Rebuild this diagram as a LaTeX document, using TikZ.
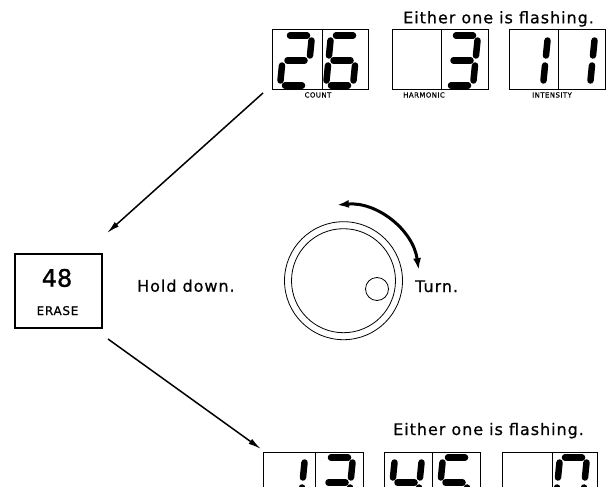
\documentclass[tikz,border=0pt]{standalone}
\usepackage{fontspec}
\setmainfont{DejaVu Sans}
\newfontfamily\panelfont[LetterSpace=6,FakeBold=0.6]{DejaVu Sans}
\newfontfamily\keyfont[FakeBold=1.2]{DejaVu Sans}
\usetikzlibrary{arrows.meta}

% seven-segment pieces, local frame: top-left at (0,0), y down
\def\segpatha{(5,0) -- (22,0)}
\def\segpathb{(27,5) -- (27,20)}
\def\segpathc{(27,30) -- (27,45)}
\def\segpathd{(5,50) -- (22,50)}
\def\segpathe{(0,30) -- (0,45)}
\def\segpathf{(0,5) -- (0,20)}
\def\segpathg{(5,25) -- (22,25)}
\newcommand{\segdigit}[3]{%
  \begin{scope}[shift={(#1,#2)}, xslant=0.1]
    \foreach \s in {#3} {\draw[segline] \csname segpath\s\endcsname;}
  \end{scope}}

\tikzset{
  segline/.style={line width=6.5pt, line cap=round},
  display/.style={draw, line width=1pt, minimum width=96pt, minimum height=60pt,
    anchor=north west, inner sep=0pt, outer sep=0pt},
  divider/.style={line width=1pt},
  caption/.style={font=\panelfont\fontsize{7}{8}\selectfont, inner sep=0pt, anchor=base},
  remark/.style={font=\panelfont\fontsize{16}{19}\selectfont, inner sep=0pt, anchor=base west},
  flow/.style={line width=1.5pt, -{Latex[length=13pt,width=6pt]}},
}

\begin{document}
\begin{tikzpicture}[x=1pt,y=-1pt]
  \clip (0,0) rectangle (616,487);
  % Displays before erasing
  \node[remark] (flashtop) at (403,23.3) {Either one is flashing.};
  \node[display] (count) at (272,30) {};
  \node[display] (harmonic) at (392,30) {};
  \node[display] (intensity) at (509,30) {};
  \draw[divider] ([xshift=50]count.north west) -- ([xshift=50]count.south west);
  \draw[divider] ([xshift=49]harmonic.north west) -- ([xshift=49]harmonic.south west);
  \draw[divider] ([xshift=49]intensity.north west) -- ([xshift=49]intensity.south west);
  \segdigit{285}{35.5}{a,b,g,e,d}
  \segdigit{331}{35.5}{a,f,g,e,d,c}
  \segdigit{451}{35.5}{a,b,g,c,d}
  \segdigit{521}{35.5}{b,c}
  \segdigit{568}{35.5}{b,c}
  \node[caption] (countlabel) at (318,97.5) {COUNT};
  \node[caption] (harmoniclabel) at (424,97.5) {HARMONIC};
  \node[caption] (intensitylabel) at (552,97.5) {INTENSITY};

  % Erase key
  \node[draw, line width=1.2pt, minimum width=87pt, minimum height=74pt,
    inner sep=0pt, outer sep=0pt] (erasekey) at (58.5,291) {};
  \node[font=\keyfont\fontsize{24}{28}\selectfont, inner sep=0pt, anchor=base] (keynum) at (57,286.7) {48};
  \node[font=\panelfont\fontsize{12}{14}\selectfont, inner sep=0pt, anchor=base] (keyname) at (57.5,315) {ERASE};
  \node[remark] (hold) at (137,291.7) {Hold down.};

  % Knob
  \node[draw, circle, line width=0.8pt, minimum size=118pt, inner sep=0pt] (knob) at (343.5,280.7) {};
  \draw[line width=0.8pt] (knob.center) circle (52);
  \node[draw, circle, line width=0.8pt, minimum size=23pt, inner sep=0pt] (pointer) at (377,289) {};
  \draw[line width=3pt, {Latex[length=12pt,width=8pt]}-{Latex[length=12pt,width=8pt]}]
    ([shift={(-8:76)}]knob.center) arc[start angle=-8, end angle=-95, radius=76];
  \node[remark] (turn) at (415,292) {Turn.};

  % Displays after erasing
  \node[remark] (flashbottom) at (393,435) {Either one is flashing.};
  \node[display, minimum width=100pt] (countafter) at (263,452) {};
  \node[display] (harmonicafter) at (384,452) {};
  \node[display, minimum width=95pt] (intensityafter) at (502,452) {};
  \draw[divider] ([xshift=52]countafter.north west) -- ([xshift=52]countafter.south west);
  \draw[divider] ([xshift=48]harmonicafter.north west) -- ([xshift=48]harmonicafter.south west);
  \draw[divider] ([xshift=50]intensityafter.north west) -- ([xshift=50]intensityafter.south west);
  \segdigit{278}{457.5}{b,c}
  \segdigit{326}{457.5}{a,b,g,c,d}
  \segdigit{395}{457.5}{f,g,b,c}
  \segdigit{443}{457.5}{a,f,g,c,d}
  \segdigit{560}{457.5}{a,b,c,d,e,f}

  % Arrows
  \draw[flow] ([shift={(-9,3)}]count.south west) -- ([shift={(5,-21)}]erasekey.north east);
  \draw[flow] ([shift={(6,11)}]erasekey.south east) -- ([shift={(-2,-3)}]countafter.north west);
\end{tikzpicture}
\end{document}
